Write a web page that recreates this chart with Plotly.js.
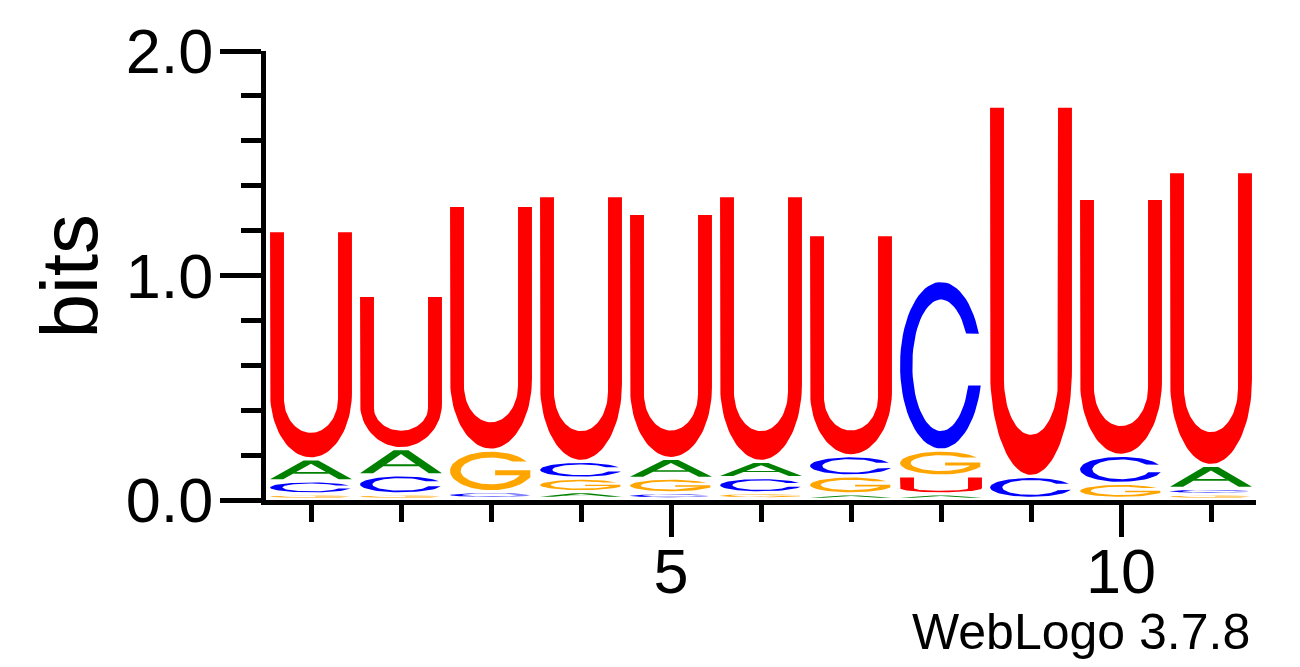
<!DOCTYPE html>
<html>
<head>
<meta charset="utf-8">
<script src="https://cdn.plot.ly/plotly-3.0.1.min.js"></script>
<style>html,body{margin:0;padding:0;background:#fff;}#chart{width:1300px;height:667px;}</style>
</head>
<body>
<div id="chart"></div>
<script>
// ---- Data (bits per letter at each position) ----
const positions = [1, 2, 3, 4, 5, 6, 7, 8, 9, 10, 11];
const bitsA = [0.098, 0.117, 0.000, 0.030, 0.088, 0.072, 0.020, 0.020, 0.000, 0.000, 0.102];
const bitsC = [0.058, 0.085, 0.030, 0.075, 0.025, 0.068, 0.090, 0.756, 0.098, 0.125, 0.025];
const bitsG = [0.020, 0.020, 0.185, 0.060, 0.065, 0.025, 0.080, 0.115, 0.000, 0.067, 0.020];
const bitsU = [1.017, 0.682, 1.090, 1.184, 1.091, 1.184, 0.985, 0.080, 1.649, 1.144, 1.309];
const letters = ['A', 'C', 'G', 'U'];
const xTickVals = [5, 10];
const xTickText = ['5', '10'];
const yTickVals = [0, 1, 2];
const yTickText = ['0.0', '1.0', '2.0'];

const colors = {A: '#008000', C: '#0000ff', G: '#ffa500', U: '#ff0000'};
const bitsBy = {A: bitsA, C: bitsC, G: bitsG, U: bitsU};

// ---- Glyph outlines in a unit box (style templates) ----
function arc(cx, cy, rx, ry, a0, a1, n) {
  const pts = [];
  for (let i = 0; i <= n; i++) {
    const a = (a0 + (a1 - a0) * i / n) * Math.PI / 180;
    pts.push([cx + rx * Math.cos(a), cy + ry * Math.sin(a)]);
  }
  return pts;
}
const glyphs = {
  U: [[[0, 1], [0, 0.288]].concat(arc(0.5, 0.288, 0.5, 0.288, 180, 360, 48))
        .concat([[1, 1], [0.83, 1], [0.83, 0.26]])
        .concat(arc(0.5, 0.26, 0.33, 0.151, 360, 180, 48))
        .concat([[0.17, 1]])],
  C: [arc(0.5, 0.5, 0.5, 0.5, 22.3, 346, 64)
        .concat(arc(0.5, 0.5, 0.35, 0.395, 342.2, 28.8, 64))],
  G: [arc(0.5, 0.5, 0.5, 0.5, 29.3, 335, 64)
        .concat([[0.98, 0.33], [0.98, 0.52], [0.55, 0.52], [0.55, 0.39], [0.86, 0.39]])
        .concat(arc(0.5, 0.5, 0.37, 0.35, 340, 44.4, 64))],
  A: [
    [[0, 0], [0.16, 0], [0.5, 0.829], [0.5, 1], [0.41, 1]],
    [[1, 0], [0.84, 0], [0.5, 0.829], [0.5, 1], [0.59, 1]],
    [[0.283, 0.3], [0.717, 0.3], [0.68, 0.39], [0.32, 0.39]]
  ]
};

// ---- Build stacked glyph traces (data coordinates) ----
const colWidth = 0.91;
const traceXY = {A: {x: [], y: []}, C: {x: [], y: []}, G: {x: [], y: []}, U: {x: [], y: []}};
positions.forEach((p, i) => {
  const stack = letters.map(l => ({l: l, h: bitsBy[l][i]}))
    .filter(d => d.h > 0)
    .sort((a, b) => a.h - b.h);
  let base = 0;
  stack.forEach(d => {
    const gap = Math.min(0.014, d.h * 0.5);
    const y0 = base + gap, hh = d.h - gap;
    glyphs[d.l].forEach(poly => {
      poly.forEach(pt => {
        traceXY[d.l].x.push(p - colWidth / 2 + pt[0] * colWidth);
        traceXY[d.l].y.push(y0 + pt[1] * hh);
      });
      traceXY[d.l].x.push(null);
      traceXY[d.l].y.push(null);
    });
    base += d.h;
  });
});

const traces = letters.map(l => ({
  type: 'scatter', mode: 'lines', name: l,
  x: traceXY[l].x, y: traceXY[l].y,
  fill: 'toself', fillcolor: colors[l],
  line: {width: 0, color: colors[l]},
  hoverinfo: 'skip', showlegend: false
}));

const font = 'Liberation Sans, Arial, Helvetica, sans-serif';
const layout = {
  width: 1300, height: 667,
  margin: {l: 266, r: 44, t: 51, b: 167, pad: 0},
  paper_bgcolor: '#ffffff', plot_bgcolor: '#ffffff',
  showlegend: false,
  xaxis: {
    range: [0.5, 11.5], showgrid: false, zeroline: false,
    showline: true, linewidth: 5, linecolor: '#000',
    ticks: 'outside', tickvals: xTickVals, ticktext: xTickText,
    ticklen: 32, tickwidth: 5, tickcolor: '#000',
    minor: {ticks: 'outside', dtick: 1, tick0: 0, ticklen: 17, tickwidth: 5, tickcolor: '#000', showgrid: false},
    tickfont: {family: font, size: 63, color: '#000'},
    ticklabelstandoff: -20,
    fixedrange: true
  },
  yaxis: {
    range: [0, 2], showgrid: false, zeroline: false,
    showline: true, linewidth: 5, linecolor: '#000',
    ticks: 'outside', tickvals: yTickVals, ticktext: yTickText,
    ticklen: 41, tickwidth: 5, tickcolor: '#000',
    minor: {ticks: 'outside', dtick: 0.2, tick0: 0, ticklen: 20, tickwidth: 5, tickcolor: '#000', showgrid: false},
    tickfont: {family: font, size: 63, color: '#000'},
    ticklabelstandoff: -6,
    fixedrange: true
  },
  annotations: [
    {text: 'bits', xref: 'paper', yref: 'paper', x: -0.198, y: 0.5,
     xanchor: 'center', yanchor: 'middle', textangle: -90, showarrow: false,
     font: {family: font, size: 80, color: '#000'}},
    {text: 'WebLogo 3.7.8', xref: 'paper', yref: 'paper', x: 0.996, y: -0.293,
     xanchor: 'right', yanchor: 'middle', showarrow: false,
     font: {family: font, size: 50, color: '#000'}}
  ]
};

Plotly.newPlot('chart', traces, layout, {staticPlot: true, displayModeBar: false});
</script>
</body>
</html>
